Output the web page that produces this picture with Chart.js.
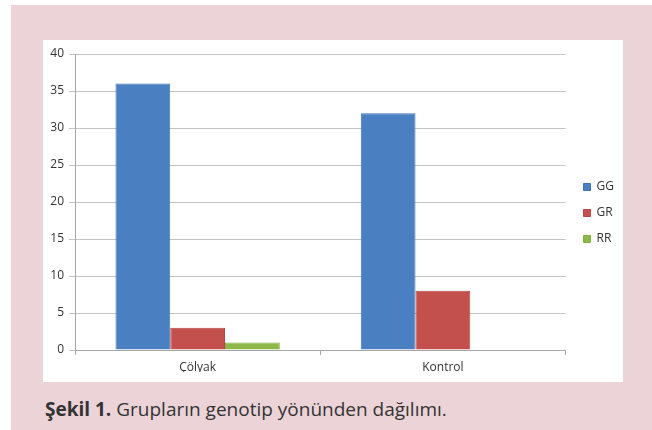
<!DOCTYPE html>
<html>
<head>
<meta charset="utf-8">
<script src="https://cdn.jsdelivr.net/npm/chart.js@4/dist/chart.umd.min.js"></script>
<style>
  body { margin: 0; background: #fff; }
  #frame { position: absolute; left: 11px; top: 5px; width: 641px; height: 425px; background: #ebd3d8; }
  #panel { position: absolute; left: 43px; top: 40px; width: 580px; height: 342px; background: #fff; }
  #genotipChart { position: absolute; left: 43px; top: 40px; }
  #caption { position: absolute; left: 45px; top: 396px; font-family: "Open Sans", sans-serif; font-size: 19px; color: #333; white-space: nowrap; }
  #caption b { font-weight: 700; }
</style>
</head>
<body>
<div id="frame"></div>
<div id="panel"></div>
<canvas id="genotipChart" width="596" height="342"></canvas>
<div id="caption"><b>Şekil 1.</b> Grupların genotip yönünden dağılımı.</div>
<script>
const groups = ['Çölyak', 'Kontrol'];
const ggValues = [36, 32];
const grValues = [3, 8];
const rrValues = [1, 0];
const yTicks = [0, 5, 10, 15, 20, 25, 30, 35, 40];

const tickFont = { family: 'Open Sans', size: 12 };

let ctx = document.getElementById('genotipChart');
const data = {
  labels: groups,
  datasets: [
    { label: 'GG', data: ggValues, backgroundColor: '#4a7fc2', borderColor: '#3d72b6', borderWidth: 1 },
    { label: 'GR', data: grValues, backgroundColor: '#c4504e', borderColor: '#b74644', borderWidth: 1 },
    { label: 'RR', data: rrValues, backgroundColor: '#8fb84a', borderColor: '#84ad41', borderWidth: 1 },
  ],
};
const config = {
  type: 'bar',
  data,
  options: {
    responsive: false,
    animation: false,
    devicePixelRatio: 1,
    categoryPercentage: 0.67,
    barPercentage: 1,
    layout: { padding: { top: 14, right: 15, left: 0, bottom: 10 } },
    plugins: {
      tooltip: { enabled: false },
      legend: {
        position: 'right',
        labels: { boxWidth: 7, boxHeight: 7, padding: 14, color: '#333', font: tickFont },
      },
    },
    scales: {
      x: {
        offset: true,
        grid: { drawOnChartArea: false, tickLength: 5, color: '#a6a6a6' },
        border: { color: '#a6a6a6' },
        ticks: { color: '#333', font: tickFont, padding: 5 },
        afterFit: (s) => { s.height = 22; },
      },
      y: {
        min: 0,
        max: 40,
        afterBuildTicks: (s) => { s.ticks = yTicks.map((v) => ({ value: v })); },
        grid: { color: '#c3c3c3', tickLength: 6 },
        border: { color: '#a6a6a6' },
        ticks: { color: '#333', font: tickFont, padding: 5 },
        afterFit: (s) => { s.width = 32; },
      },
      spacer: {
        type: 'linear',
        position: 'right',
        ticks: { display: false },
        grid: { display: false },
        border: { display: false },
        afterFit: (s) => { s.width = 4; },
      },
    },
  },
};
new Chart(ctx, config);
</script>
</body>
</html>
